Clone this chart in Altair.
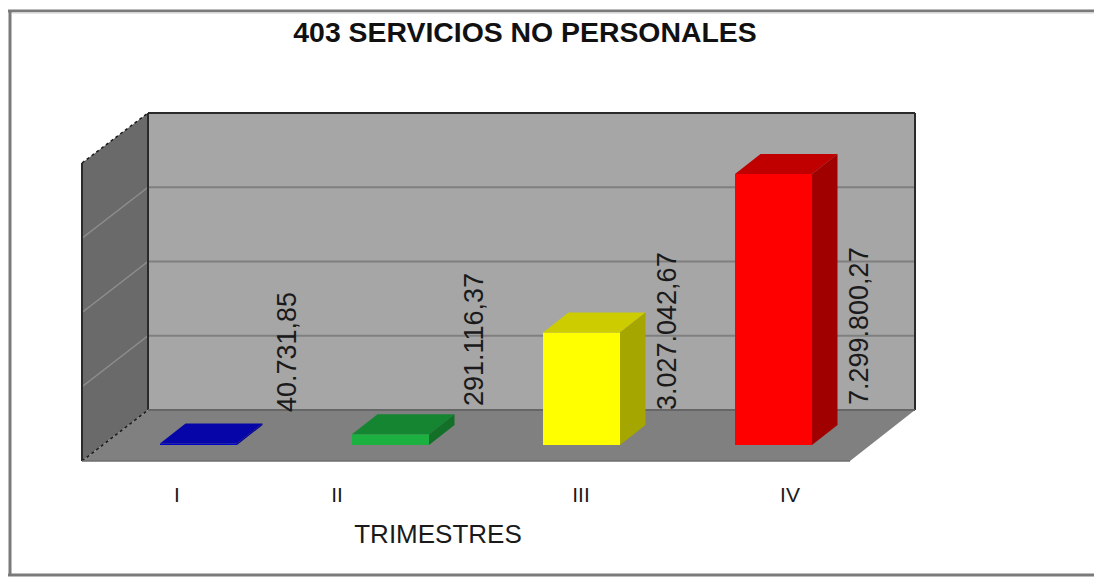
import altair as alt
import pandas as pd

# --- chart values ---
trimestres = ["I", "II", "III", "IV"]
valores = [40731.85, 291116.37, 3027042.67, 7299800.27]
etiquetas = ["40.731,85", "291.116,37", "3.027.042,67", "7.299.800,27"]
titulo = "403 SERVICIOS NO PERSONALES"
eje_x = "TRIMESTRES"
grid_values = [0, 2000000, 4000000, 6000000, 8000000]

# --- colours ---
front = ["#0000C8", "#1CB040", "#FFFF00", "#FF0000"]
top = ["#0606A8", "#158532", "#CCCC00", "#C00000"]
side = ["#000090", "#127028", "#A6A600", "#A00000"]

# --- layout, in the x scale's units and the value scale's units ---
W, H = 1086, 571
PX = 2000000 / 74.25            # value units for one vertical step of the plot


def v(py):
    return (445 - py) * PX


bar_left = [152, 344, 535, 727]
bar_w = 77
depth_x, depth_v = 25.5, 20 * PX
label_x = [280, 467, 660, 852]
label_bottom = [412, 406, 410, 405]
tick_x = [169, 329, 573, 782]

wl, wr = 140, 907       # back wall
fl, fr = 74, 842        # front of floor
back0 = v(410)
shift = back0 - v(461)  # wall depth in value units

walls = []


def poly(rows, face, color, store):
    for x, y, y2 in rows:
        store.append({"x": x, "y": y, "y2": y2, "face": face, "c": color})


poly([(wl, v(410), v(113)), (wr, v(410), v(113))], "back", "#A6A6A6", walls)
poly([(fl, v(461), v(163)), (wl, v(410), v(113))], "left", "#6A6A6A", walls)
poly([(fl, v(461), v(461)), (wl, v(461), v(410)), (fr, v(461), v(410)), (wr, v(410), v(410))], "floor", "#808080", walls)
walls = pd.DataFrame(walls)

bars = []
for i, val in enumerate(valores):
    x0, x1 = bar_left[i], bar_left[i] + bar_w
    poly([(x0, 0, val), (x1, 0, val)], f"f{i}", front[i], bars)
    poly([(x0, val, val), (x0 + depth_x, val, val + depth_v), (x1, val, val + depth_v), (x1 + depth_x, val + depth_v, val + depth_v)], f"t{i}", top[i], bars)
    poly([(x1, 0, val), (x1 + depth_x, depth_v, val + depth_v)], f"s{i}", side[i], bars)
bars = pd.DataFrame(bars)

enc_area = dict(
    x=alt.X("x:Q", scale=alt.Scale(domain=[0, W], range=[0, W], nice=False, zero=False), axis=None),
    y=alt.Y("y:Q", scale=alt.Scale(domain=[v(8 + H), v(8)], range=[H, 0], nice=False, zero=False), axis=None),
    y2="y2:Q",
    color=alt.Color("c:N", scale=None),
    detail="face:N",
)

wall_layer = alt.Chart(walls).mark_area(interpolate="linear", opacity=1).encode(**enc_area)
bar_layer = alt.Chart(bars).mark_area(interpolate="linear", opacity=1).encode(**enc_area)

# grid lines: back wall then side wall
grid_back = pd.DataFrame(
    [{"x": wl, "y": back0 + g, "g": g} for g in grid_values[1:4]]
    + [{"x": wr, "y": back0 + g, "g": g} for g in grid_values[1:4]]
)
grid_side = pd.DataFrame(
    [{"x": fl, "y": back0 + g - shift, "g": g} for g in grid_values[1:4]]
    + [{"x": wl, "y": back0 + g, "g": g} for g in grid_values[1:4]]
)
X = alt.X("x:Q", scale=alt.Scale(domain=[0, W], range=[0, W], nice=False, zero=False), axis=None)
Y = alt.Y("y:Q", scale=alt.Scale(domain=[v(8 + H), v(8)], range=[H, 0], nice=False, zero=False), axis=None)
l_back = alt.Chart(grid_back).mark_line(color="#7F7F7F", strokeWidth=2).encode(x=X, y=Y, detail="g:Q")
l_side = alt.Chart(grid_side).mark_line(color="#8E8E8E", strokeWidth=1.5).encode(x=X, y=Y, detail="g:Q")


def seg(rows, color, width, dash=None):
    df = pd.DataFrame([{"x": x, "y": y, "k": k} for k, (a, b) in enumerate(rows) for x, y in (a, b)])
    kw = {"strokeDash": dash} if dash else {}
    return alt.Chart(df).mark_line(color=color, strokeWidth=width, **kw).encode(x=X, y=Y, detail="k:Q")


edges_solid = seg(
    [((fl, v(461)), (fl, v(163))), ((wl, v(410)), (wl, v(113))), ((wr, v(410)), (wr, v(113))), ((wl, v(113)), (wr, v(113)))],
    "#2A2A2A", 2)
edges_floor = seg([((wl, v(410)), (wr, v(410)))], "#666666", 2)
edges_dash = seg([((fl, v(461)), (wl, v(410))), ((fl, v(163)), (wl, v(113)))], "#1A1A1A", 1.5, [3, 3])
edge_front = seg([((fl, v(461)), (fr, v(461)))], "#6E6E6E", 1.5)

# frame
frame_dark = seg(
    [((0, v(11)), (W, v(11))), ((2, v(10)), (2, v(575))), ((0, v(575)), (W, v(575)))],
    "#7A7A7A", 3)
frame_light = seg([((4.5, v(13)), (W, v(13)))], "#DDDDDD", 1.5)

labels = pd.DataFrame({
    "x": label_x,
    "y": [v(b) for b in label_bottom],
    "t": etiquetas,
})
label_layer = alt.Chart(labels).mark_text(
    angle=270, align="left", baseline="middle", font="Liberation Sans", fontSize=27, color="#1A1A1A"
).encode(x=X, y=Y, text="t:N")

ticks = pd.DataFrame({"x": tick_x, "y": [v(496)] * 4, "t": trimestres})
tick_layer = alt.Chart(ticks).mark_text(
    align="center", baseline="middle", font="Liberation Sans", fontSize=21, color="#1A1A1A"
).encode(x=X, y=Y, text="t:N")

xt = pd.DataFrame({"x": [430], "y": [v(535)], "t": [eje_x]})
xt_layer = alt.Chart(xt).mark_text(
    align="center", baseline="middle", font="Liberation Sans", fontSize=26, color="#1A1A1A"
).encode(x=X, y=Y, text="t:N")

tt = pd.DataFrame({"x": [517], "y": [v(33)], "t": [titulo]})
tt_layer = alt.Chart(tt).mark_text(
    align="center", baseline="middle", font="Liberation Sans", fontSize=28.4, fontWeight="bold", color="#111111"
).encode(x=X, y=Y, text="t:N")

chart = alt.layer(
    wall_layer, l_back, l_side, edges_solid, edges_floor, edges_dash, edge_front,
    bar_layer, label_layer, tick_layer, xt_layer, tt_layer, frame_dark, frame_light,
).properties(
    width=W, height=H, padding=0, autosize=alt.AutoSizeParams(type="none"), background="white"
).configure_view(stroke=None)

chart.save("out.html", embed_options={"renderer": "svg", "actions": False})
